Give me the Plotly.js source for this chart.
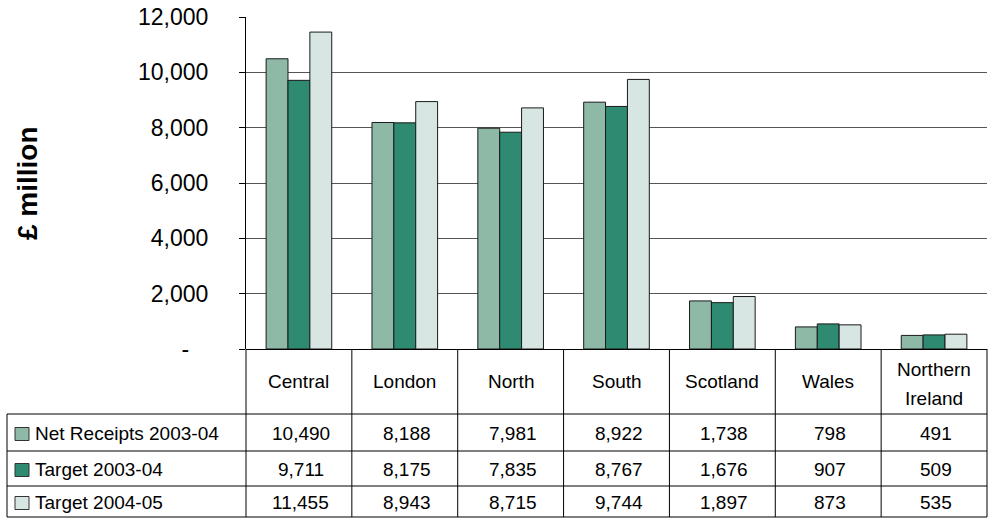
<!DOCTYPE html>
<html><head><meta charset="utf-8">
<script src="https://cdn.plot.ly/plotly-3.0.1.min.js"></script>
<style>html,body{margin:0;padding:0;background:#fff}#chart{width:990px;height:518px}</style>
</head><body><div id="chart"></div>
<script>
// ---- data ----
const categories = ['Central','London','North','South','Scotland','Wales','Northern Ireland'];
const headerLabels = ['Central','London','North','South','Scotland','Wales','Northern<br>Ireland'];
const seriesNames = ['Net Receipts 2003-04','Target 2003-04','Target 2004-05'];
const netReceipts0304 = [10490, 8188, 7981, 8922, 1738, 798, 491];
const target0304 = [9711, 8175, 7835, 8767, 1676, 907, 509];
const target0405 = [11455, 8943, 8715, 9744, 1897, 873, 535];
const yTickVals = [0, 2000, 4000, 6000, 8000, 10000, 12000];
const yTickText = ['-\u00a0\u00a0\u00a0', '2,000', '4,000', '6,000', '8,000', '10,000', '12,000'];
const yTitle = '£ million';

// ---- style ----
const colors = ['#8DB9A6', '#2E8B71', '#D7E6E2'];
const FONT = 'Arial, "Liberation Sans", sans-serif';
const W = 990, H = 518, L = 246, R = 3, T = 17, B = 169;
const pw = W - L - R, ph = H - T - B;
const px = x => (x - L) / pw;
const py = y => (T + ph - y) / ph;

const seriesValues = [netReceipts0304, target0304, target0405];
const traces = seriesValues.map((vals, i) => ({
  type: 'bar', x: categories, y: vals, name: seriesNames[i],
  marker: {color: colors[i], line: {color: '#1a1a1a', width: 1}},
  hoverinfo: 'x+y+name'
}));

const shapes = [];
const annotations = [];
const line = (x0, y0, x1, y1) => shapes.push({type: 'line', xref: 'paper', yref: 'paper',
  x0: px(x0), y0: py(y0), x1: px(x1), y1: py(y1), line: {color: '#000', width: 1}});

const n = categories.length;
const colX = k => L + k * pw / n;
const tableLeft = 7, tableBottom = 517;
const rowEdges = [414, 451, 486, 517];
// table horizontal lines
rowEdges.forEach(y => line(tableLeft, y, W - R, y));
// vertical lines
for (let k = 1; k <= n; k++) line(colX(k), 349, colX(k), tableBottom);
line(L, 349, L, tableBottom);
line(tableLeft, 414, tableLeft, tableBottom);

// header labels (two-line labels get a wider line spacing, as in the original)
headerLabels.forEach((lab, k) => {
  const parts = lab.split('<br>');
  const ys = parts.length === 1 ? [382] : [370, 398];
  parts.forEach((p, j) => annotations.push({
    xref: 'paper', yref: 'paper', x: px(colX(k + 0.5)), y: py(ys[j]),
    text: p, showarrow: false, xanchor: 'center', yanchor: 'middle',
    font: {family: FONT, size: 19, color: '#000'}
  }));
});

// rows
seriesValues.forEach((vals, r) => {
  const yc = (rowEdges[r] + rowEdges[r + 1]) / 2 + 1;
  vals.forEach((v, k) => annotations.push({
    xref: 'paper', yref: 'paper', x: px(colX(k + 0.5) + 2), y: py(yc),
    text: v.toLocaleString('en-US'), showarrow: false, xanchor: 'center', yanchor: 'middle',
    font: {family: FONT, size: 19, color: '#000'}
  }));
  annotations.push({
    xref: 'paper', yref: 'paper', x: px(33), y: py(yc),
    text: seriesNames[r], showarrow: false, xanchor: 'left', yanchor: 'middle',
    font: {family: FONT, size: 19, color: '#000'}
  });
  shapes.push({type: 'rect', xref: 'paper', yref: 'paper',
    x0: px(15), x1: px(29), y0: py(yc - 6), y1: py(yc + 7),
    fillcolor: colors[r], line: {color: '#333', width: 1}});
});

// y title
annotations.push({
  xref: 'paper', yref: 'paper', x: px(27), y: py(183), textangle: -90,
  text: '<b>' + yTitle + '</b>', showarrow: false, xanchor: 'center', yanchor: 'middle',
  font: {family: FONT, size: 28, color: '#000'}
});

const layout = {
  width: W, height: H,
  margin: {l: L, r: R, t: T, b: B, pad: 0},
  paper_bgcolor: '#fff', plot_bgcolor: '#fff',
  barmode: 'group', bargap: 0.38, bargroupgap: 0,
  showlegend: false,
  font: {family: FONT, color: '#000'},
  xaxis: {type: 'category', showticklabels: false, ticks: '', showgrid: false,
          showline: false, zeroline: false, fixedrange: true},
  yaxis: {range: [0, 12000], tickvals: yTickVals, ticktext: yTickText,
          ticks: 'outside', ticklen: 6, tickcolor: '#000', tickwidth: 1,
          showline: true, linecolor: '#000', linewidth: 1,
          showgrid: true, gridcolor: '#555', gridwidth: 1,
          zeroline: true, zerolinecolor: '#000', zerolinewidth: 1,
          ticklabelstandoff: 26,
          tickfont: {family: FONT, size: 23, color: '#000'}, fixedrange: true},
  shapes: shapes, annotations: annotations
};

Plotly.newPlot('chart', traces, layout, {displayModeBar: false, staticPlot: true});
</script>
</body></html>
